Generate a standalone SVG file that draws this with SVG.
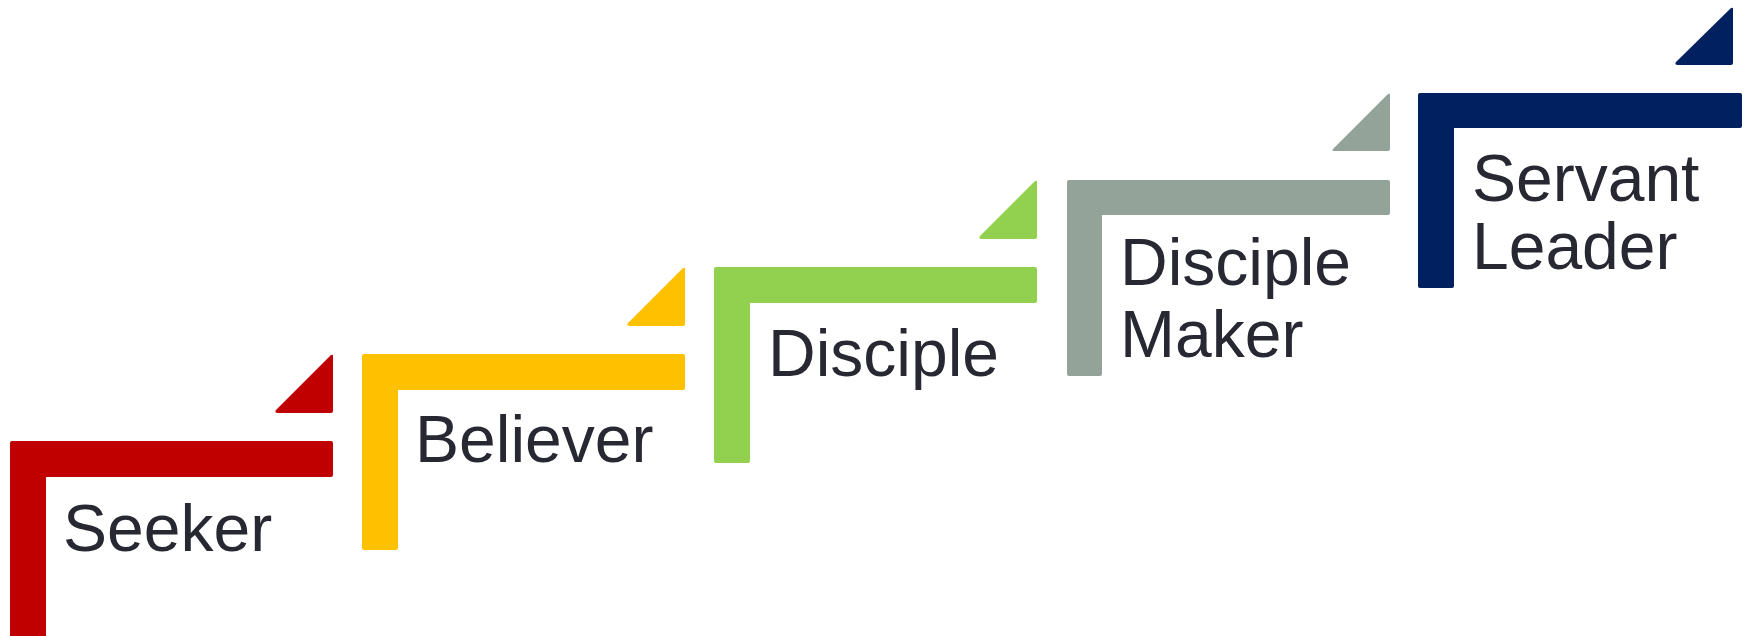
<svg xmlns="http://www.w3.org/2000/svg" width="1751" height="636" viewBox="0 0 1751 636">
<style>
.lbl{font-family:"Liberation Sans",Arial,sans-serif;font-size:66px;fill:#282833}
</style>
<rect width="1751" height="636" fill="#ffffff"/>
<g id="seeker" fill="#C00000">
<path d="M12,441 H331 Q333,441 333,443 V475 Q333,477 331,477 H46 V640 H10 V443 Q10,441 12,441 Z"/>
<path d="M333,356 Q333,354 331,355 L276,410 Q274,413 278,413 H331 Q333,413 333,411 Z"/>
<text class="lbl" x="63" y="551">Seeker</text>
</g>
<g id="believer" fill="#FFC000">
<path d="M364,354 H683 Q685,354 685,356 V388 Q685,390 683,390 H398 V548 Q398,550 396,550 H364 Q362,550 362,548 V356 Q362,354 364,354 Z"/>
<path d="M685,269 Q685,267 683,268 L628,323 Q626,326 630,326 H683 Q685,326 685,324 Z"/>
<text class="lbl" x="415" y="462">Believer</text>
</g>
<g id="disciple" fill="#92D050">
<path d="M716,267 H1035 Q1037,267 1037,269 V301 Q1037,303 1035,303 H750 V461 Q750,463 748,463 H716 Q714,463 714,461 V269 Q714,267 716,267 Z"/>
<path d="M1037,182 Q1037,180 1035,181 L980,236 Q978,239 982,239 H1035 Q1037,239 1037,237 Z"/>
<text class="lbl" x="768" y="376">Disciple</text>
</g>
<g id="disciple-maker" fill="#93A39A">
<path d="M1069,180 H1388 Q1390,180 1390,182 V213 Q1390,215 1388,215 H1102 V374 Q1102,376 1100,376 H1069 Q1067,376 1067,374 V182 Q1067,180 1069,180 Z"/>
<path d="M1390,95 Q1390,93 1388,94 L1333,149 Q1331,151 1335,151 H1388 Q1390,151 1390,149 Z"/>
<text class="lbl" x="1120" y="285">Disciple</text>
<text class="lbl" x="1120" y="357">Maker</text>
</g>
<g id="servant-leader" fill="#002060">
<path d="M1420,93 H1740 Q1742,93 1742,95 V126 Q1742,128 1740,128 H1454 V286 Q1454,288 1452,288 H1420 Q1418,288 1418,286 V95 Q1418,93 1420,93 Z"/>
<path d="M1733,9 Q1733,7 1731,8 L1676,62 Q1674,65 1678,65 H1731 Q1733,65 1733,63 Z"/>
<text class="lbl" x="1472" y="201">Servant</text>
<text class="lbl" x="1472" y="269">Leader</text>
</g>
<g id="connectors"/>
</svg>
